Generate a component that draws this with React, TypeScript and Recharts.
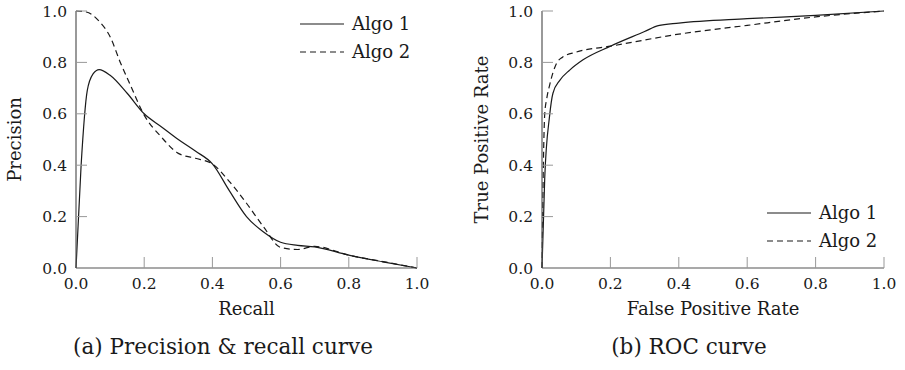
import { Legend, Line, LineChart, XAxis, YAxis } from "recharts";

// tick values shared by both panels
const TICKS = [0, 0.2, 0.4, 0.6, 0.8, 1.0];

// (a) precision & recall
const prRecallA1 = [0, 0.015, 0.033, 0.05, 0.068, 0.1, 0.15, 0.2, 0.25, 0.3, 0.35, 0.4, 0.45, 0.5, 0.55, 0.6, 0.65, 0.7, 0.8, 0.9, 1.0];
const prPrecisionA1 = [0, 0.4, 0.69, 0.755, 0.772, 0.75, 0.68, 0.6, 0.55, 0.5, 0.455, 0.405, 0.3, 0.2, 0.14, 0.1, 0.088, 0.082, 0.05, 0.024, 0];
const prRecallA2 = [0, 0.03, 0.07, 0.1, 0.13, 0.16, 0.2, 0.25, 0.3, 0.35, 0.4, 0.45, 0.5, 0.55, 0.6, 0.65, 0.7, 0.8, 0.9, 1.0];
const prPrecisionA2 = [1.0, 0.996, 0.957, 0.9, 0.8, 0.71, 0.595, 0.51, 0.446, 0.427, 0.405, 0.336, 0.252, 0.16, 0.08, 0.072, 0.084, 0.05, 0.025, 0];

// (b) ROC
const rocFprA1 = [0, 0.008, 0.022, 0.032, 0.052, 0.081, 0.12, 0.2, 0.3, 0.34, 0.4, 0.6, 0.8, 1.0];
const rocTprA1 = [0, 0.35, 0.59, 0.68, 0.73, 0.77, 0.81, 0.863, 0.92, 0.943, 0.953, 0.97, 0.983, 1.0];
const rocFprA2 = [0, 0.004, 0.008, 0.014, 0.022, 0.042, 0.06, 0.1, 0.2, 0.4, 0.6, 0.8, 1.0];
const rocTprA2 = [0, 0.4, 0.6, 0.66, 0.71, 0.795, 0.82, 0.84, 0.863, 0.91, 0.944, 0.977, 1.0];

const FONT = "'DejaVu Serif', serif";
const INK = "#1a1a1a";
const AXIS = "#555";
const TICK = "#999";
const DASH = "6 4";

const zip = (xs: number[], ys: number[]) => xs.map((x, i) => ({ x, y: ys[i] }));

// pgfplots-style ticks: short gray marks pointing into the plot
function XTick(props: any) {
  const { x, y, payload } = props;
  return (
    <g>
      {payload.value !== 0 && (
        <path d={`M${x},${y}V${y - 11}`} stroke={TICK} strokeWidth={1} fill="none" />
      )}
      <text x={x} y={y + 21} textAnchor="middle" fontFamily={FONT} fontSize={15.5} fill={INK}>
        {Number(payload.value).toFixed(1)}
      </text>
    </g>
  );
}

function YTick(props: any) {
  const { x, y, payload } = props;
  return (
    <g>
      {payload.value !== 0 && (
        <path d={`M${x},${y}H${x + 11}`} stroke={TICK} strokeWidth={1} fill="none" />
      )}
      <text x={x - 9} y={y + 5.5} textAnchor="end" fontFamily={FONT} fontSize={15.5} fill={INK}>
        {Number(payload.value).toFixed(1)}
      </text>
    </g>
  );
}

function LegendBox(props: any) {
  const items = props.payload || [];
  return (
    <svg width={130} height={60}>
      {items.map((entry: any, i: number) => {
        const cy = 14 + i * 28;
        return (
          <g key={entry.value}>
            <line
              x1={0}
              x2={44}
              y1={cy}
              y2={cy}
              stroke={INK}
              strokeWidth={1.2}
              strokeDasharray={entry.payload?.strokeDasharray}
            />
            <text x={52} y={cy + 6} fontFamily={FONT} fontSize={18} fill={INK}>
              {entry.value}
            </text>
          </g>
        );
      })}
    </svg>
  );
}

type PanelProps = {
  width: number;
  marginLeft: number;
  marginRight: number;
  xLabel: string;
  yLabel: string;
  yLabelDx: number;
  legendPos: { left: number; top: number };
  a1: { x: number; y: number }[];
  a2: { x: number; y: number }[];
};

function Panel({ width, marginLeft, marginRight, xLabel, yLabel, yLabelDx, legendPos, a1, a2 }: PanelProps) {
  return (
    <LineChart width={width} height={330} margin={{ top: 11, right: marginRight, bottom: 10, left: marginLeft }}>
      <XAxis
        type="number"
        dataKey="x"
        domain={[0, 1]}
        ticks={TICKS}
        interval={0}
        tickSize={0}
        tickMargin={0}
        height={52}
        axisLine={{ stroke: AXIS, strokeWidth: 1.2 }}
        tickLine={false}
        tick={(p: any) => <XTick {...p} />}
        label={(p: any) => {
          const vb = p.viewBox;
          return (
            <text x={vb.x + vb.width / 2} y={vb.y + 47} textAnchor="middle" fontFamily={FONT} fontSize={18} fill={INK}>
              {xLabel}
            </text>
          );
        }}
      />
      <YAxis
        type="number"
        dataKey="y"
        domain={[0, 1]}
        ticks={TICKS}
        interval={0}
        tickSize={0}
        tickMargin={0}
        width={70}
        axisLine={{ stroke: AXIS, strokeWidth: 1.2 }}
        tickLine={false}
        tick={(p: any) => <YTick {...p} />}
        label={(p: any) => {
          const vb = p.viewBox;
          const cx = vb.x + yLabelDx;
          const cy = vb.y + vb.height / 2;
          return (
            <text
              x={cx}
              y={cy}
              transform={`rotate(-90 ${cx} ${cy})`}
              textAnchor="middle"
              dominantBaseline="central"
              fontFamily={FONT}
              fontSize={18}
              fill={INK}
            >
              {yLabel}
            </text>
          );
        }}
      />
      <Legend
        layout="vertical"
        align="center"
        verticalAlign="middle"
        content={<LegendBox />}
        wrapperStyle={{ position: "absolute", left: legendPos.left, top: legendPos.top, width: 130, height: 60 }}
      />
      <Line
        data={a1}
        dataKey="y"
        name="Algo 1"
        type="monotone"
        stroke={INK}
        strokeWidth={1.2}
        dot={false}
        activeDot={false}
        isAnimationActive={false}
      />
      <Line
        data={a2}
        dataKey="y"
        name="Algo 2"
        type="monotone"
        stroke={INK}
        strokeWidth={1.2}
        strokeDasharray={DASH}
        dot={false}
        activeDot={false}
        isAnimationActive={false}
      />
    </LineChart>
  );
}

export default function App() {
  return (
    <div style={{ position: "absolute", left: 0, top: 0, width: 905, height: 370, background: "#fff" }}>
      <div style={{ position: "absolute", left: 0, top: 0 }}>
        <Panel
          width={450}
          marginLeft={6}
          marginRight={33}
          xLabel="Recall"
          yLabel="Precision"
          yLabelDx={8}
          legendPos={{ left: 300, top: 10 }}
          a1={zip(prRecallA1, prPrecisionA1)}
          a2={zip(prRecallA2, prPrecisionA2)}
        />
      </div>
      <div style={{ position: "absolute", left: 450, top: 0 }}>
        <Panel
          width={455}
          marginLeft={22}
          marginRight={21}
          xLabel="False Positive Rate"
          yLabel="True Positive Rate"
          yLabelDx={9}
          legendPos={{ left: 317, top: 199 }}
          a1={zip(rocFprA1, rocTprA1)}
          a2={zip(rocFprA2, rocTprA2)}
        />
      </div>
      <svg width={905} height={40} style={{ position: "absolute", left: 0, top: 330 }}>
        <text x={223} y={24} textAnchor="middle" fontFamily={FONT} fontSize={21.5} fill={INK}>
          (a) Precision &amp; recall curve
        </text>
        <text x={689} y={24} textAnchor="middle" fontFamily={FONT} fontSize={21.5} fill={INK}>
          (b) ROC curve
        </text>
      </svg>
    </div>
  );
}
